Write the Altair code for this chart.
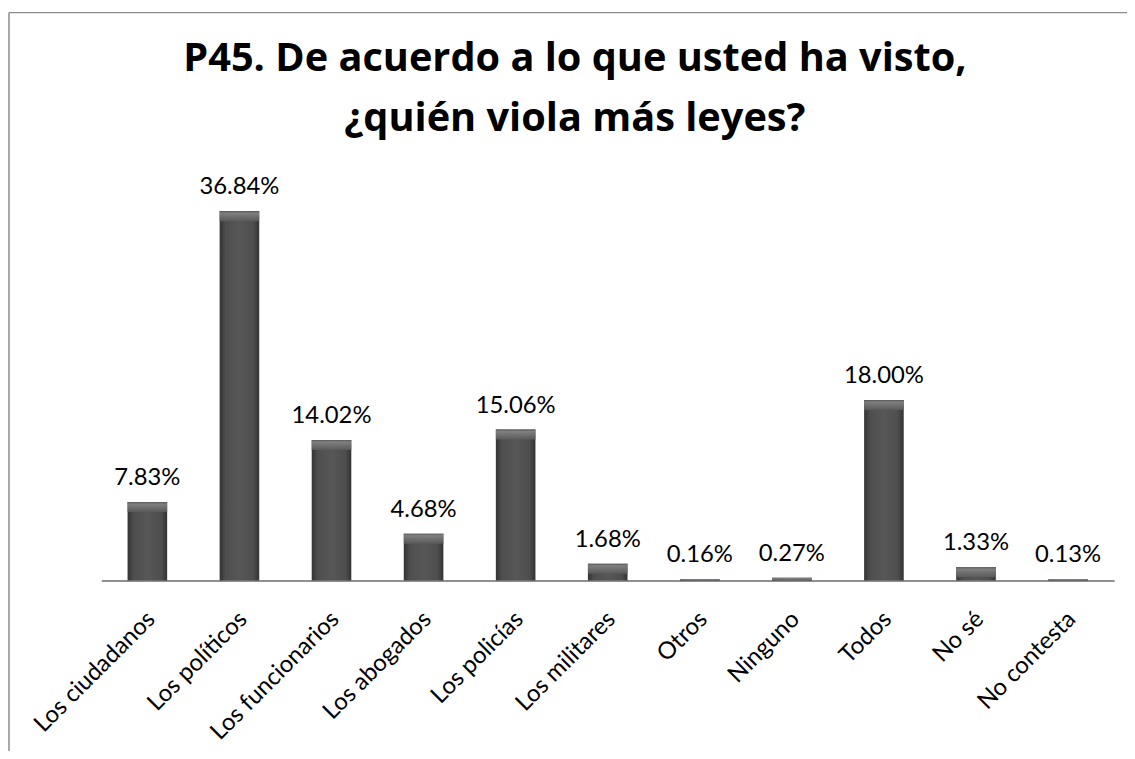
import altair as alt
import pandas as pd

categories = ["Los ciudadanos", "Los políticos", "Los funcionarios", "Los abogados",
              "Los policías", "Los militares", "Otros", "Ninguno", "Todos", "No sé",
              "No contesta"]
values = [7.83, 36.84, 14.02, 4.68, 15.06, 1.68, 0.16, 0.27, 18.00, 1.33, 0.13]

title_lines = ["P45. De acuerdo a lo que usted ha visto,", "¿quién viola más leyes?"]

df = pd.DataFrame({"cat": categories, "value": values})

FONT = "Lato"
TITLE_FONT = "Open Sans"

xenc = alt.X(
    "cat:N", sort=categories,
    scale=alt.Scale(paddingInner=0.57, paddingOuter=0.285),
    axis=alt.Axis(title=None, labelAngle=-45, labelAlign="right", labelBaseline="middle",
                  labelFont=FONT, labelFontSize=24, labelColor="#000000",
                  labelPadding=35, labelOffset=4, ticks=False,
                  domainColor="#8f8f8f", domainWidth=2, labelLimit=400),
)
yenc = alt.Y("value:Q", scale=alt.Scale(domain=[0, 40]), axis=None)

body_grad = alt.Gradient(
    gradient="linear",
    stops=[alt.GradientStop(color="#333333", offset=0),
           alt.GradientStop(color="#4e4e4e", offset=0.15),
           alt.GradientStop(color="#575757", offset=0.5),
           alt.GradientStop(color="#4e4e4e", offset=0.85),
           alt.GradientStop(color="#333333", offset=1)],
    x1=0, x2=1, y1=0, y2=0,
)
bevel_grad = alt.Gradient(
    gradient="linear",
    stops=[alt.GradientStop(color="#5a5a5a", offset=0),
           alt.GradientStop(color="#858585", offset=0.2),
           alt.GradientStop(color="#5a5a5a", offset=1)],
    x1=0, x2=0, y1=0, y2=1,
)

base = alt.Chart(df)

bars = base.mark_bar(color=body_grad).encode(x=xenc, y=yenc)

bevel = base.transform_calculate(
    top2="max(datum.value - 1.0, 0)"
).mark_bar(color=bevel_grad, opacity=0.9).encode(x=xenc, y=yenc, y2="top2:Q")

labels = base.transform_calculate(
    lab="format(datum.value, '.2f') + '%'"
).mark_text(font=FONT, fontSize=24, color="#000000", baseline="alphabetic",
            dy=-17).encode(x=xenc, y=yenc, text="lab:N")

frame_df = pd.DataFrame({"k": [0]})
top_rule = alt.Chart(frame_df).mark_rule(color="#8c8c8c", strokeWidth=1.5).encode(
    x=alt.value(-93), x2=alt.value(1200), y=alt.value(-168))
left_rule = alt.Chart(frame_df).mark_rule(color="#8c8c8c", strokeWidth=1.5).encode(
    x=alt.value(-93), y=alt.value(-168), y2=alt.value(760))

chart = alt.layer(bars, bevel, labels, top_rule, left_rule).properties(
    width=1020, height=404,
    autosize=alt.AutoSizeParams(type="none"),
    padding={"left": 94, "top": 170, "right": 13, "bottom": 169},
    title=alt.TitleParams(title_lines, font=TITLE_FONT, fontSize=40, fontWeight="bold",
                          color="#000000", lineHeight=60, anchor="middle", dx=-33,
                          offset=0, dy=128),
).configure(background="white", view=alt.ViewConfig(strokeWidth=0))

chart.save("out.html", embed_options={"renderer": "svg", "actions": False})
